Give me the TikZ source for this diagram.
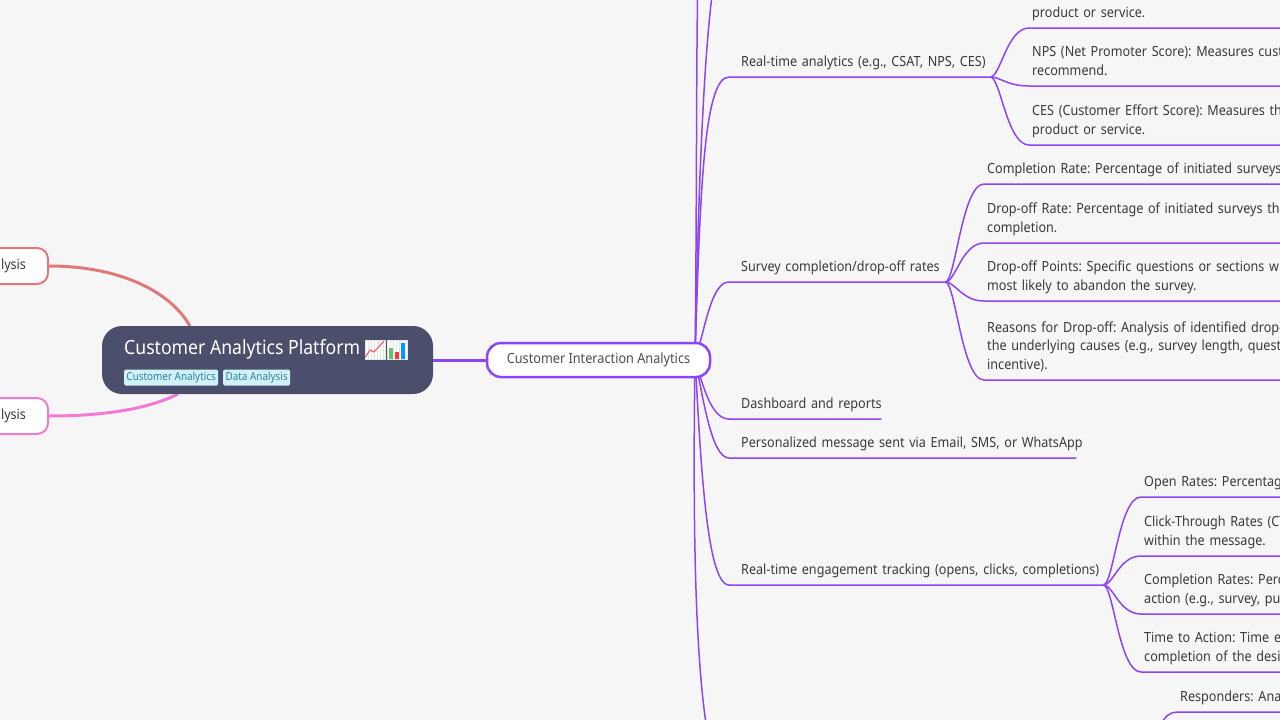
\documentclass[tikz,border=0pt]{standalone}
\usepackage{fontspec}
\setmainfont[FakeStretch=0.9]{Noto Sans}
\usepackage{xcolor}
\usetikzlibrary{backgrounds}
\definecolor{fondcarte}{HTML}{F6F6F6}
\definecolor{violetcarte}{HTML}{8E44F8}
\definecolor{ardoise}{HTML}{4C4F6B}
\definecolor{rougecarte}{HTML}{E07A7A}
\definecolor{rosecarte}{HTML}{F07AD8}
\definecolor{encre}{HTML}{3A3A3A}
\definecolor{tagfond}{HTML}{CFF1FA}
\definecolor{tagtexte}{HTML}{2F7F99}
\frenchspacing
\begin{document}
\begin{tikzpicture}[x=1pt,y=-1pt]
% les styles
\tikzstyle lienviolet=[color=violetcarte,line width=1.5pt]
\tikzstyle texteviolet=[anchor=south west,inner xsep=0pt,inner ysep=4.8pt,align=left,text=encre,font=\fontsize{14}{18.5}\selectfont,execute at end node={\strut}]
\tikzstyle boitegauche=[anchor=east,line width=2pt,fill=white,rounded corners=11pt,minimum height=36pt,inner xsep=22pt,text width=70pt,align=right,text=encre,font=\fontsize{14}{18.5}\selectfont]
\tikzstyle tagmichel=[anchor=west,fill=tagfond,rounded corners=1.5pt,inner xsep=2pt,inner ysep=0pt,minimum height=16pt,text=tagtexte,font=\fontsize{11}{13}\selectfont]
\useasboundingbox (0,0) rectangle (1280,720);
% le centre
\node[fill=ardoise,rounded corners=20pt,minimum width=331pt,minimum height=68pt,inner sep=0pt] (centre) at (267.5,360) {};
\node[anchor=west,inner sep=0pt,text=white,font=\fontsize{19.6}{24}\selectfont] (titre) at (124,349.5) {Customer Analytics Platform};
\node[tagmichel,minimum width=94pt] (tagun) at (124,377.5) {Customer Analytics};
\node[tagmichel,minimum width=67pt] (tagdeux) at (223,377.5) {Data Analysis};
% les deux icones
\foreach \x in {365,387}
    \draw[shift={(\x,340)},color=black!10,fill=white,line width=0.3pt,step=3] (0,0) grid (20,19) rectangle (0,0);
\draw[shift={(365,340)},color=red!70,line width=1pt] (0.5,17)--(5,10)--(9,12)--(19,1);
\fill[shift={(387,340)},color=green!60!black!60] (2,8) rectangle (6,19);
\fill[shift={(387,340)},color=red!80] (8,12) rectangle (12,19);
\fill[shift={(387,340)},color=blue!40!cyan] (14,3) rectangle (18,19);
% les noeuds de gauche
\node[boitegauche,draw=rougecarte] (gaucheun) at (49,266) {lysis};
\node[boitegauche,draw=rosecarte] (gauchedeux) at (49,416) {lysis};
% le noeud principal
\node[draw=violetcarte,line width=2.5pt,fill=white,rounded corners=14pt,minimum width=223pt,minimum height=34pt,inner sep=0pt,text=encre!90,font=\fontsize{14.1}{18.5}\selectfont] (interaction) at (598.5,360) {Customer Interaction Analytics};
\coordinate (depart) at (695,360);
% les branches
\node[texteviolet,text width=249pt] (temps) at (741,77) {\mbox{Real-time analytics (e.g., CSAT, NPS, CES)}};
\node[texteviolet,text width=204pt] (survey) at (741,282) {\mbox{Survey completion/drop-off rates}};
\node[texteviolet,text width=140pt] (dashboard) at (741,419) {\mbox{Dashboard and reports}};
\node[texteviolet,text width=335pt] (message) at (741,458) {\mbox{Personalized message sent via Email, SMS, or WhatsApp}};
\node[texteviolet,text width=362pt] (engagement) at (741,585) {\mbox{Real-time engagement tracking (opens, clicks, completions)}};
% les feuilles
\node[texteviolet,text width=300pt] (tempsun) at (1032,28) {product or service.};
\node[texteviolet,text width=300pt] (tempsdeux) at (1032,86) {NPS (Net Promoter Score): Measures custo\\recommend.};
\node[texteviolet,text width=300pt] (tempstrois) at (1032,145) {CES (Customer Effort Score): Measures the\\product or service.};
\node[texteviolet,text width=340pt] (surveyun) at (987,184) {Completion Rate: Percentage of initiated surveys};
\node[texteviolet,text width=340pt] (surveydeux) at (987,243) {Drop-off Rate: Percentage of initiated surveys tha\\completion.};
\node[texteviolet,text width=340pt] (surveytrois) at (987,301) {Drop-off Points: Specific questions or sections wh\\most likely to abandon the survey.};
\node[texteviolet,text width=340pt] (surveyquatre) at (987,380) {Reasons for Drop-off: Analysis of identified drop-o\\the underlying causes (e.g., survey length, questio\\incentive).};
\node[texteviolet,text width=200pt] (engun) at (1144,497) {Open Rates: Percentag};
\node[texteviolet,text width=200pt] (engdeux) at (1144,556) {Click-Through Rates (CT\\within the message.};
\node[texteviolet,text width=200pt] (engtrois) at (1144,614) {Completion Rates: Perc\\action (e.g., survey, pur};
\node[texteviolet,text width=200pt] (engquatre) at (1144,672) {Time to Action: Time el\\completion of the desir};
\node[texteviolet,text width=200pt] (repond) at (1180,712) {Responders: Ana};
% les bouts hors cadre
\coordinate (hautun) at (698,-30);
\coordinate (hautdeux) at (715,-25);
\coordinate (basun) at (712,755);
\coordinate (baseng) at (1150,770);
\begin{scope}[on background layer]
\fill[fondcarte] (0,0) rectangle (1280,720);
\draw[color=rougecarte,line width=3pt] (gaucheun.east) .. controls +(70,0) and +(-20,-35) .. (190,326);
\draw[color=rosecarte,line width=3pt] (gauchedeux.east) .. controls +(55,0) and +(-30,15) .. (178,394);
\draw[color=violetcarte,line width=3pt] (centre.east) -- (interaction.west);
\end{scope}
% les liens du noeud principal
\begin{scope}[on background layer]
\draw[lienviolet] (depart) .. controls +(5,-160) and +(-26,0) .. ([xshift=-12pt]temps.south west) -- (temps.south east);
\draw[lienviolet] (depart) .. controls +(10,-30) and +(-18,0) .. ([xshift=-12pt]survey.south west) -- (survey.south east);
\draw[lienviolet] (depart) .. controls +(8,25) and +(-18,0) .. ([xshift=-12pt]dashboard.south west) -- (dashboard.south east);
\draw[lienviolet] (depart) .. controls +(8,35) and +(-18,0) .. ([xshift=-12pt]message.south west) -- (message.south east);
\draw[lienviolet] (depart) .. controls +(5,80) and +(-24,0) .. ([xshift=-12pt]engagement.south west) -- (engagement.south east);
\draw[lienviolet] (depart) .. controls +(-3,200) and +(-15,-60) .. (basun);
\draw[lienviolet] (depart) .. controls +(2,-160) and +(-2,100) .. (hautun);
\draw[lienviolet] (depart) .. controls +(2,-110) and +(-13,75) .. (hautdeux);
\end{scope}
% les liens vers les feuilles
\foreach \n in {tempsun,tempsdeux,tempstrois}
    \draw[lienviolet] (temps.south east) .. controls +(10,0) and +(-22,0) .. ([xshift=-3pt]\n.south west) -- (\n.south east);
\foreach \n in {surveyun,surveydeux,surveytrois,surveyquatre}
    \draw[lienviolet] (survey.south east) .. controls +(10,0) and +(-22,0) .. ([xshift=-3pt]\n.south west) -- (\n.south east);
\foreach \n in {engun,engdeux,engtrois,engquatre}
    \draw[lienviolet] (engagement.south east) .. controls +(10,0) and +(-22,0) .. ([xshift=-3pt]\n.south west) -- (\n.south east);
\draw[lienviolet] (baseng) .. controls +(5,-40) and +(-14,0) .. ([xshift=-3pt]repond.south west) -- (repond.south east);
\end{tikzpicture}
\end{document}
